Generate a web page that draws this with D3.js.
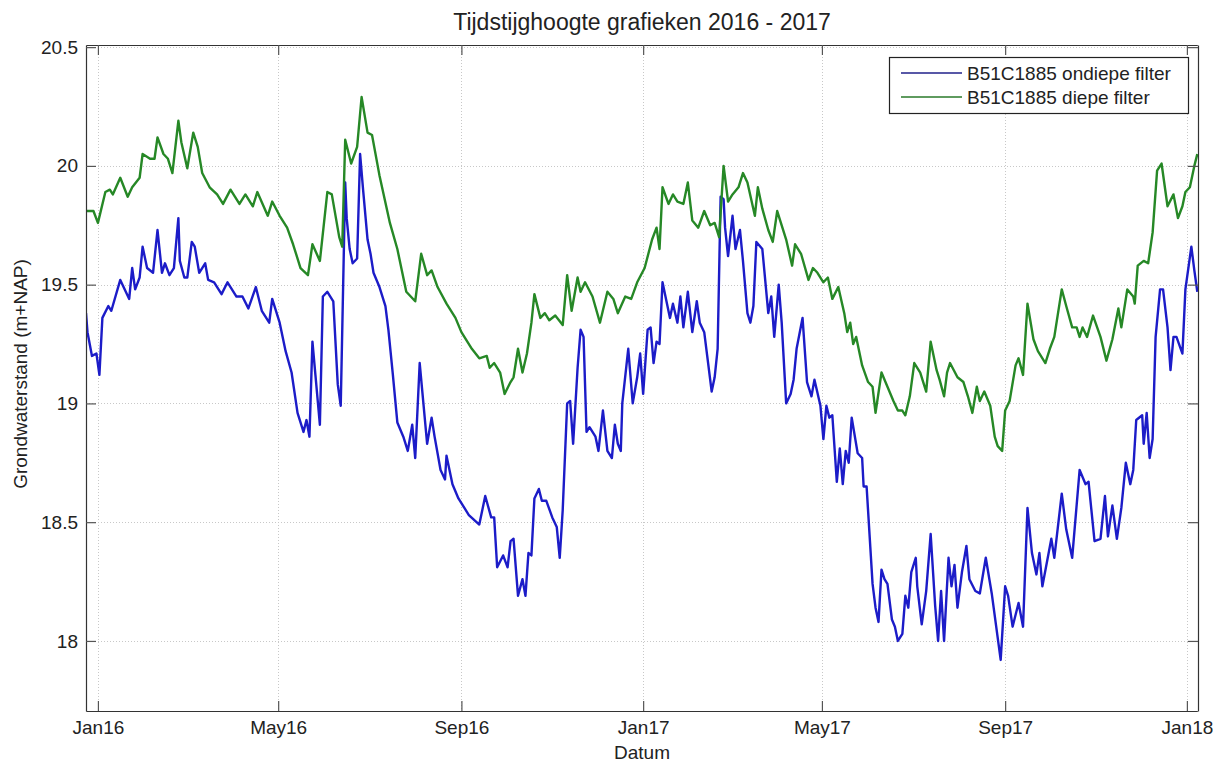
<!DOCTYPE html>
<html>
<head>
<meta charset="utf-8">
<script src="https://cdn.jsdelivr.net/npm/d3@7"></script>
<style>
  body { margin: 0; background: #fff; }
  svg { display: block; }
  text { font-family: "Liberation Sans", Arial, Helvetica, sans-serif; fill: #222; }
</style>
</head>
<body>
<svg id="chart" width="1213" height="762"></svg>
<script>
// Labels
const chartTitle = "Tijdstijghoogte grafieken 2016 - 2017";
const yAxisLabel = "Grondwaterstand (m+NAP)";
const xAxisLabel = "Datum";
const seriesNames = ["B51C1885 ondiepe filter", "B51C1885 diepe filter"];

// Tick positions and labels
const xTickDates = ["2016-01-01", "2016-05-01", "2016-09-01", "2017-01-01", "2017-05-01", "2017-09-01", "2018-01-01"];
const xTickLabels = ["Jan16", "May16", "Sep16", "Jan17", "May17", "Sep17", "Jan18"];
const yTickValues = [18, 18.5, 19, 19.5, 20, 20.5];
const yTickLabels = ["18", "18.5", "19", "19.5", "20", "20.5"];

// Grondwaterstand ondiepe filter (m+NAP)
const ondiepe = [
  ["2015-12-24",19.38],["2015-12-25",19.30],["2015-12-28",19.20],["2015-12-31",19.21],["2016-01-02",19.12],["2016-01-04",19.36],
  ["2016-01-08",19.41],["2016-01-10",19.39],["2016-01-16",19.52],["2016-01-22",19.44],["2016-01-24",19.57],["2016-01-26",19.48],
  ["2016-01-29",19.53],["2016-01-31",19.66],["2016-02-03",19.57],["2016-02-07",19.55],["2016-02-10",19.73],["2016-02-13",19.55],
  ["2016-02-15",19.59],["2016-02-18",19.54],["2016-02-21",19.57],["2016-02-24",19.78],["2016-02-25",19.60],["2016-02-28",19.53],
  ["2016-03-01",19.53],["2016-03-04",19.68],["2016-03-06",19.66],["2016-03-09",19.55],["2016-03-13",19.59],["2016-03-15",19.52],
  ["2016-03-19",19.51],["2016-03-24",19.46],["2016-03-28",19.51],["2016-04-03",19.45],["2016-04-07",19.45],["2016-04-11",19.40],
  ["2016-04-16",19.49],["2016-04-20",19.39],["2016-04-25",19.34],["2016-04-27",19.44],["2016-05-02",19.34],["2016-05-06",19.22],
  ["2016-05-10",19.13],["2016-05-14",18.96],["2016-05-18",18.88],["2016-05-20",18.93],["2016-05-22",18.86],["2016-05-24",19.26],
  ["2016-05-26",19.12],["2016-05-29",18.91],["2016-05-31",19.45],["2016-06-03",19.47],["2016-06-07",19.43],["2016-06-10",19.08],
  ["2016-06-12",18.99],["2016-06-15",19.93],["2016-06-16",19.78],["2016-06-18",19.65],["2016-06-20",19.59],["2016-06-23",19.61],
  ["2016-06-25",20.05],["2016-06-27",19.90],["2016-06-30",19.69],["2016-07-02",19.63],["2016-07-04",19.55],["2016-07-08",19.49],
  ["2016-07-12",19.41],["2016-07-14",19.31],["2016-07-17",19.12],["2016-07-20",18.92],["2016-07-24",18.86],["2016-07-27",18.80],
  ["2016-07-30",18.91],["2016-08-01",18.77],["2016-08-04",19.17],["2016-08-09",18.83],["2016-08-12",18.94],["2016-08-14",18.86],
  ["2016-08-18",18.72],["2016-08-21",18.68],["2016-08-22",18.78],["2016-08-26",18.66],["2016-08-30",18.60],["2016-09-03",18.56],
  ["2016-09-06",18.53],["2016-09-13",18.49],["2016-09-17",18.61],["2016-09-21",18.52],["2016-09-23",18.52],["2016-09-25",18.31],
  ["2016-09-29",18.36],["2016-10-02",18.31],["2016-10-04",18.42],["2016-10-06",18.43],["2016-10-09",18.19],["2016-10-12",18.26],
  ["2016-10-14",18.19],["2016-10-16",18.37],["2016-10-18",18.36],["2016-10-20",18.60],["2016-10-23",18.64],["2016-10-25",18.59],
  ["2016-10-28",18.59],["2016-11-01",18.52],["2016-11-04",18.48],["2016-11-06",18.35],["2016-11-08",18.55],["2016-11-11",19.00],
  ["2016-11-13",19.01],["2016-11-15",18.83],["2016-11-18",19.15],["2016-11-20",19.31],["2016-11-22",19.28],["2016-11-24",18.88],
  ["2016-11-26",18.90],["2016-11-30",18.86],["2016-12-02",18.80],["2016-12-05",18.97],["2016-12-08",18.80],["2016-12-11",18.77],
  ["2016-12-13",18.91],["2016-12-15",18.83],["2016-12-17",18.80],["2016-12-18",19.00],["2016-12-22",19.23],["2016-12-25",19.00],
  ["2016-12-28",19.11],["2016-12-30",19.21],["2017-01-01",19.04],["2017-01-04",19.31],["2017-01-06",19.32],["2017-01-08",19.17],
  ["2017-01-10",19.26],["2017-01-12",19.25],["2017-01-14",19.51],["2017-01-17",19.42],["2017-01-19",19.36],["2017-01-21",19.42],
  ["2017-01-24",19.34],["2017-01-26",19.45],["2017-01-28",19.32],["2017-01-31",19.47],["2017-02-03",19.30],["2017-02-06",19.43],
  ["2017-02-08",19.34],["2017-02-11",19.30],["2017-02-13",19.20],["2017-02-16",19.05],["2017-02-18",19.11],["2017-02-20",19.23],
  ["2017-02-22",19.87],["2017-02-24",19.86],["2017-02-25",19.74],["2017-02-27",19.62],["2017-03-02",19.79],["2017-03-04",19.65],
  ["2017-03-07",19.73],["2017-03-09",19.60],["2017-03-12",19.38],["2017-03-14",19.34],["2017-03-16",19.41],["2017-03-18",19.68],
  ["2017-03-22",19.65],["2017-03-26",19.38],["2017-03-28",19.45],["2017-03-30",19.28],["2017-04-02",19.50],["2017-04-04",19.34],
  ["2017-04-07",19.00],["2017-04-10",19.04],["2017-04-12",19.10],["2017-04-14",19.23],["2017-04-18",19.36],["2017-04-21",19.09],
  ["2017-04-24",19.03],["2017-04-26",19.10],["2017-04-30",18.99],["2017-05-02",18.85],["2017-05-04",18.99],["2017-05-06",18.94],
  ["2017-05-08",18.95],["2017-05-11",18.67],["2017-05-13",18.81],["2017-05-15",18.66],["2017-05-17",18.80],["2017-05-19",18.75],
  ["2017-05-21",18.94],["2017-05-25",18.79],["2017-05-28",18.77],["2017-05-29",18.65],["2017-05-31",18.65],["2017-06-04",18.24],
  ["2017-06-06",18.14],["2017-06-08",18.08],["2017-06-10",18.30],["2017-06-12",18.26],["2017-06-14",18.24],["2017-06-17",18.09],
  ["2017-06-19",18.06],["2017-06-21",18.00],["2017-06-24",18.03],["2017-06-26",18.19],["2017-06-28",18.14],["2017-06-30",18.29],
  ["2017-07-03",18.35],["2017-07-04",18.23],["2017-07-07",18.07],["2017-07-10",18.21],["2017-07-13",18.45],["2017-07-16",18.15],
  ["2017-07-18",18.00],["2017-07-20",18.21],["2017-07-22",18.00],["2017-07-25",18.35],["2017-07-27",18.23],["2017-07-29",18.32],
  ["2017-07-31",18.14],["2017-08-03",18.29],["2017-08-06",18.40],["2017-08-08",18.26],["2017-08-12",18.21],["2017-08-15",18.20],
  ["2017-08-19",18.35],["2017-08-23",18.20],["2017-08-26",18.06],["2017-08-29",17.92],["2017-09-01",18.23],["2017-09-03",18.19],
  ["2017-09-06",18.06],["2017-09-10",18.16],["2017-09-13",18.06],["2017-09-16",18.56],["2017-09-19",18.37],["2017-09-22",18.28],
  ["2017-09-24",18.37],["2017-09-26",18.23],["2017-10-02",18.43],["2017-10-04",18.35],["2017-10-09",18.62],["2017-10-12",18.47],
  ["2017-10-16",18.35],["2017-10-21",18.72],["2017-10-25",18.66],["2017-10-27",18.67],["2017-10-31",18.42],["2017-11-04",18.43],
  ["2017-11-07",18.61],["2017-11-09",18.44],["2017-11-12",18.57],["2017-11-15",18.43],["2017-11-18",18.56],["2017-11-21",18.75],
  ["2017-11-24",18.66],["2017-11-26",18.72],["2017-11-28",18.93],["2017-12-02",18.95],["2017-12-03",18.83],["2017-12-05",18.96],
  ["2017-12-07",18.77],["2017-12-09",18.85],["2017-12-11",19.28],["2017-12-14",19.48],["2017-12-16",19.48],["2017-12-19",19.32],
  ["2017-12-21",19.14],["2017-12-23",19.28],["2017-12-25",19.28],["2017-12-29",19.21],["2017-12-31",19.48],["2018-01-04",19.66],
  ["2018-01-06",19.56],["2018-01-08",19.47]
];

// Grondwaterstand diepe filter (m+NAP)
const diepe = [
  ["2015-12-24",19.81],["2015-12-29",19.81],["2016-01-01",19.76],["2016-01-06",19.89],["2016-01-09",19.90],["2016-01-11",19.88],
  ["2016-01-16",19.95],["2016-01-21",19.87],["2016-01-24",19.91],["2016-01-29",19.95],["2016-01-31",20.05],["2016-02-05",20.03],
  ["2016-02-08",20.03],["2016-02-10",20.12],["2016-02-14",20.05],["2016-02-17",20.03],["2016-02-20",19.97],["2016-02-24",20.19],
  ["2016-02-26",20.10],["2016-03-01",19.99],["2016-03-05",20.14],["2016-03-08",20.08],["2016-03-11",19.97],["2016-03-16",19.91],
  ["2016-03-21",19.88],["2016-03-25",19.84],["2016-03-30",19.90],["2016-04-05",19.84],["2016-04-09",19.88],["2016-04-14",19.83],
  ["2016-04-17",19.89],["2016-04-24",19.79],["2016-04-27",19.85],["2016-05-02",19.79],["2016-05-07",19.74],["2016-05-11",19.67],
  ["2016-05-16",19.57],["2016-05-21",19.54],["2016-05-24",19.67],["2016-05-29",19.60],["2016-06-03",19.89],["2016-06-06",19.88],
  ["2016-06-11",19.70],["2016-06-13",19.66],["2016-06-15",20.11],["2016-06-19",20.01],["2016-06-23",20.08],["2016-06-26",20.29],
  ["2016-06-30",20.14],["2016-07-03",20.13],["2016-07-08",19.96],["2016-07-15",19.76],["2016-07-20",19.65],["2016-07-26",19.47],
  ["2016-08-01",19.43],["2016-08-05",19.63],["2016-08-09",19.54],["2016-08-12",19.56],["2016-08-16",19.49],["2016-08-22",19.42],
  ["2016-08-28",19.36],["2016-09-01",19.30],["2016-09-08",19.23],["2016-09-13",19.19],["2016-09-18",19.20],["2016-09-20",19.15],
  ["2016-09-23",19.17],["2016-09-27",19.13],["2016-09-30",19.04],["2016-10-04",19.09],["2016-10-06",19.11],["2016-10-09",19.23],
  ["2016-10-12",19.13],["2016-10-15",19.21],["2016-10-18",19.34],["2016-10-20",19.46],["2016-10-24",19.36],["2016-10-27",19.38],
  ["2016-10-30",19.35],["2016-11-03",19.37],["2016-11-08",19.33],["2016-11-11",19.54],["2016-11-14",19.39],["2016-11-18",19.53],
  ["2016-11-20",19.47],["2016-11-23",19.51],["2016-11-28",19.45],["2016-12-03",19.34],["2016-12-08",19.47],["2016-12-12",19.44],
  ["2016-12-15",19.38],["2016-12-20",19.45],["2016-12-24",19.44],["2016-12-28",19.51],["2017-01-02",19.57],["2017-01-07",19.69],
  ["2017-01-10",19.74],["2017-01-12",19.65],["2017-01-14",19.91],["2017-01-18",19.84],["2017-01-21",19.88],["2017-01-24",19.85],
  ["2017-01-28",19.84],["2017-01-31",19.93],["2017-02-03",19.77],["2017-02-07",19.74],["2017-02-11",19.81],["2017-02-15",19.75],
  ["2017-02-18",19.76],["2017-02-21",19.70],["2017-02-24",20.00],["2017-02-27",19.85],["2017-03-02",19.88],["2017-03-06",19.91],
  ["2017-03-09",19.97],["2017-03-12",19.93],["2017-03-17",19.79],["2017-03-19",19.91],["2017-03-22",19.82],["2017-03-26",19.73],
  ["2017-03-29",19.68],["2017-04-01",19.81],["2017-04-07",19.69],["2017-04-11",19.58],["2017-04-13",19.67],["2017-04-17",19.63],
  ["2017-04-22",19.52],["2017-04-25",19.57],["2017-04-28",19.55],["2017-05-02",19.51],["2017-05-05",19.53],["2017-05-08",19.44],
  ["2017-05-12",19.49],["2017-05-16",19.38],["2017-05-18",19.30],["2017-05-20",19.34],["2017-05-22",19.25],["2017-05-24",19.28],
  ["2017-05-28",19.16],["2017-06-01",19.09],["2017-06-04",19.07],["2017-06-06",18.96],["2017-06-10",19.13],["2017-06-14",19.07],
  ["2017-06-18",19.01],["2017-06-21",18.97],["2017-06-24",18.97],["2017-06-26",18.95],["2017-06-29",19.03],["2017-07-02",19.17],
  ["2017-07-06",19.13],["2017-07-10",19.05],["2017-07-13",19.26],["2017-07-17",19.14],["2017-07-19",19.10],["2017-07-22",19.03],
  ["2017-07-24",19.13],["2017-07-26",19.17],["2017-07-31",19.11],["2017-08-04",19.09],["2017-08-07",19.03],["2017-08-10",18.96],
  ["2017-08-13",19.07],["2017-08-15",19.01],["2017-08-18",19.05],["2017-08-22",18.99],["2017-08-25",18.86],["2017-08-27",18.82],
  ["2017-08-30",18.80],["2017-09-01",18.97],["2017-09-04",19.01],["2017-09-08",19.16],["2017-09-10",19.19],["2017-09-13",19.12],
  ["2017-09-16",19.42],["2017-09-20",19.27],["2017-09-23",19.22],["2017-09-28",19.17],["2017-10-01",19.23],["2017-10-04",19.28],
  ["2017-10-09",19.48],["2017-10-12",19.41],["2017-10-16",19.32],["2017-10-19",19.32],["2017-10-21",19.28],["2017-10-23",19.32],
  ["2017-10-26",19.28],["2017-10-30",19.37],["2017-11-04",19.28],["2017-11-08",19.18],["2017-11-12",19.27],["2017-11-16",19.40],
  ["2017-11-18",19.32],["2017-11-22",19.48],["2017-11-26",19.45],["2017-11-27",19.42],["2017-11-29",19.58],["2017-12-03",19.60],
  ["2017-12-06",19.59],["2017-12-09",19.72],["2017-12-12",19.98],["2017-12-15",20.01],["2017-12-19",19.83],["2017-12-23",19.88],
  ["2017-12-26",19.78],["2017-12-29",19.83],["2017-12-31",19.89],["2018-01-03",19.91],["2018-01-06",20.00],["2018-01-08",20.05]
];

const seriesColors = ["#1c1cc8", "#268826"];
const legendColors = ["#20208a", "#2a7a2a"];

// Layout
const plot = { left: 86, top: 45, right: 1198, bottom: 711 };

const parse = d3.utcParse("%Y-%m-%d");
const svg = d3.select("#chart");

const x = d3.scaleUtc()
  .domain([parse("2015-12-24"), parse("2018-01-08")])
  .range([plot.left, plot.left + 746 * 1.4897]);
const y = d3.scaleLinear()
  .domain([17.705, 20.509])
  .range([plot.bottom, plot.top]);

const xTicks = xTickDates.map(parse);

// Dotted grid
const grid = svg.append("g").attr("class", "grid")
  .attr("stroke", "#c8c8c8").attr("stroke-width", 1).attr("stroke-dasharray", "1,2");
grid.selectAll("line.gx").data(xTicks).join("line").attr("class", "gx")
  .attr("x1", d => Math.round(x(d)) + 0.5).attr("x2", d => Math.round(x(d)) + 0.5)
  .attr("y1", plot.top).attr("y2", plot.bottom);
grid.selectAll("line.gy").data(yTickValues).join("line").attr("class", "gy")
  .attr("y1", d => Math.round(y(d)) + 0.5).attr("y2", d => Math.round(y(d)) + 0.5)
  .attr("x1", plot.left).attr("x2", plot.right);

// Series lines
svg.append("clipPath").attr("id", "plotClip").append("rect")
  .attr("x", plot.left).attr("y", plot.top)
  .attr("width", plot.right - plot.left).attr("height", plot.bottom - plot.top);

const line = d3.line().x(d => x(parse(d[0]))).y(d => y(d[1]));
const linesG = svg.append("g").attr("clip-path", "url(#plotClip)");
[ondiepe, diepe].forEach((s, i) => {
  linesG.append("path").datum(s)
    .attr("fill", "none")
    .attr("stroke", seriesColors[i])
    .attr("stroke-width", 2.4)
    .attr("stroke-linejoin", "round")
    .attr("d", line);
});

// Axes with inward ticks on all four sides
const fontSize = 19;
const xAxisBottom = d3.axisBottom(x).tickValues(xTicks)
  .tickFormat((d, i) => xTickLabels[i]).tickSizeInner(-10).tickSizeOuter(0).tickPadding(10);
const xAxisTop = d3.axisTop(x).tickValues(xTicks).tickFormat("").tickSizeInner(-10).tickSizeOuter(0);
const yAxisLeft = d3.axisLeft(y).tickValues(yTickValues)
  .tickFormat((d, i) => yTickLabels[i]).tickSizeInner(-10).tickSizeOuter(0).tickPadding(8);
const yAxisRight = d3.axisRight(y).tickValues(yTickValues).tickFormat("").tickSizeInner(-10).tickSizeOuter(0);

function styleAxis(g) {
  g.selectAll(".domain").attr("stroke", "#333").attr("stroke-width", 1.2);
  g.selectAll(".tick line").attr("stroke", "#555").attr("stroke-width", 1.2);
  g.selectAll(".tick text").attr("font-size", fontSize).attr("fill", "#222")
    .attr("font-family", '"Liberation Sans", Arial, sans-serif');
}

svg.append("g").attr("transform", `translate(0,${plot.bottom})`).call(xAxisBottom).call(styleAxis);
svg.append("g").attr("transform", `translate(0,${plot.top})`).call(xAxisTop).call(styleAxis);
svg.append("g").attr("transform", `translate(${plot.left},0)`).call(yAxisLeft).call(styleAxis);
svg.append("g").attr("transform", `translate(${plot.right},0)`).call(yAxisRight).call(styleAxis);

// Title and axis labels
svg.append("text").attr("x", (plot.left + plot.right) / 2).attr("y", 30)
  .attr("text-anchor", "middle").attr("font-size", 23).attr("fill", "#111").text(chartTitle);
svg.append("text").attr("x", (plot.left + plot.right) / 2).attr("y", 759)
  .attr("text-anchor", "middle").attr("font-size", fontSize).text(xAxisLabel);
svg.append("text").attr("transform", `translate(27,${(plot.top + plot.bottom) / 2 - 4}) rotate(-90)`)
  .attr("text-anchor", "middle").attr("font-size", fontSize).text(yAxisLabel);

// Legend
const legend = svg.append("g").attr("transform", "translate(889,57)");
legend.append("rect").attr("x", 0.5).attr("y", 0.5).attr("width", 299).attr("height", 56)
  .attr("fill", "#fff").attr("stroke", "#222").attr("stroke-width", 1.2);
seriesNames.forEach((name, i) => {
  const ly = 16 + i * 24;
  legend.append("line").attr("x1", 12).attr("x2", 73).attr("y1", ly).attr("y2", ly)
    .attr("stroke", legendColors[i]).attr("stroke-width", 1.5);
  legend.append("text").attr("x", 78).attr("y", ly + 7).attr("font-size", fontSize).text(name);
});
</script>
</body>
</html>
